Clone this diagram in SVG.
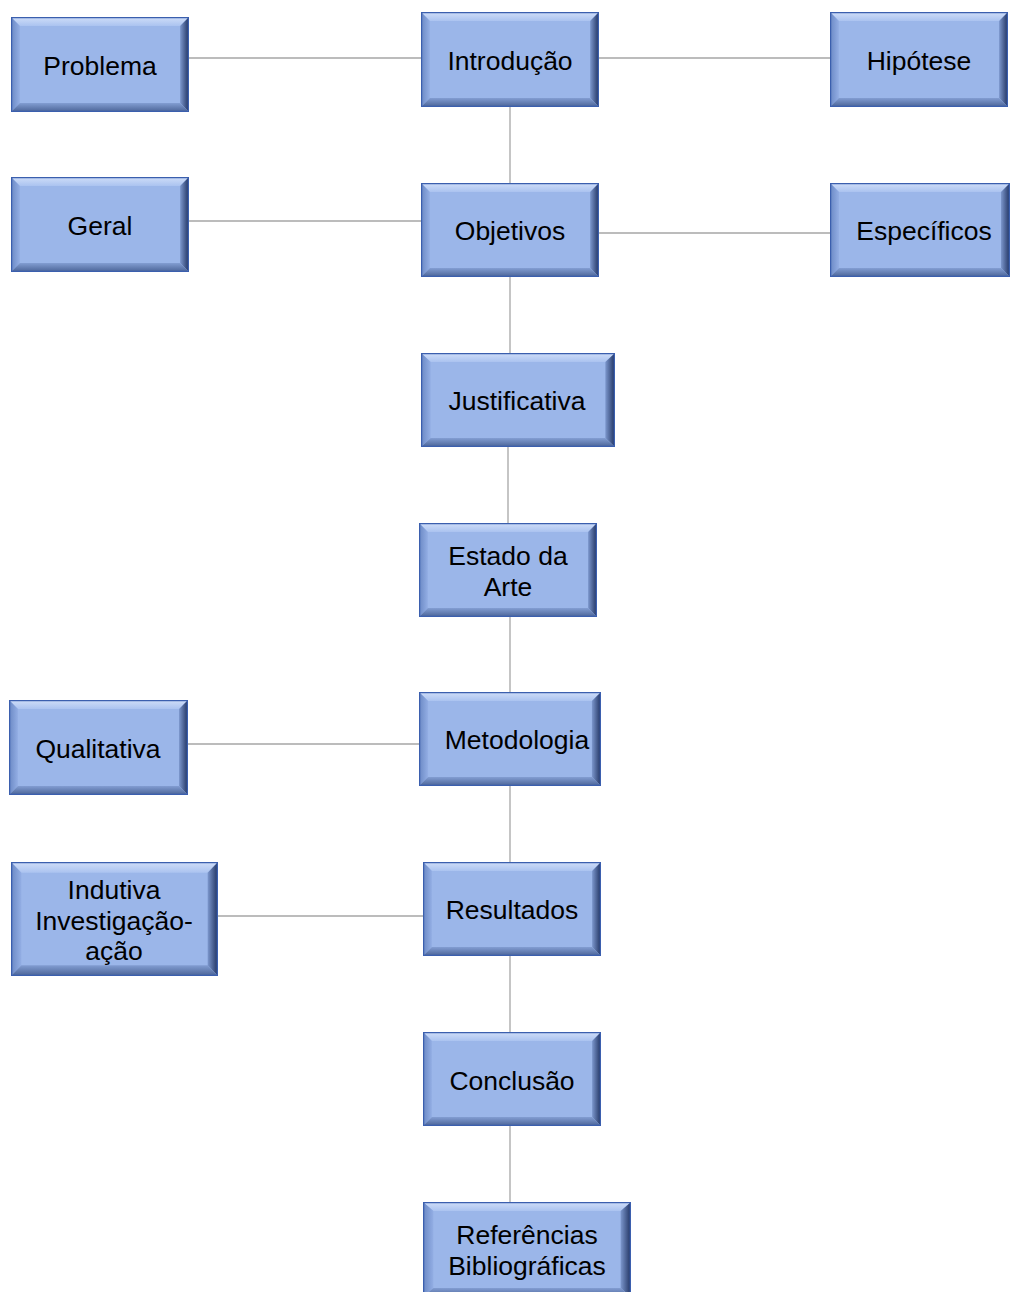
<svg xmlns="http://www.w3.org/2000/svg" xmlns:xlink="http://www.w3.org/1999/xlink" width="1010" height="1292" viewBox="0 0 1010 1292">
  <defs>
    <style>
      .lbl { font-family: "Liberation Sans", Arial, sans-serif; font-size: 26.5px; fill: #000; text-anchor: middle; }
      .wire { stroke: #a6a6a6; stroke-width: 1.3; fill: none; }
    </style>
    <linearGradient id="gTop" x1="0" y1="0" x2="0" y2="1">
      <stop offset="0" stop-color="#d0def8"/>
      <stop offset="1" stop-color="#abc3f0"/>
    </linearGradient>
    <linearGradient id="gLeft" x1="0" y1="0" x2="1" y2="0">
      <stop offset="0" stop-color="#6a88c4"/>
      <stop offset="1" stop-color="#93aee4"/>
    </linearGradient>
    <linearGradient id="gRight" x1="0" y1="0" x2="1" y2="0">
      <stop offset="0" stop-color="#7c97cd"/>
      <stop offset="1" stop-color="#1f3260"/>
    </linearGradient>
    <linearGradient id="gBot" x1="0" y1="0" x2="0" y2="1">
      <stop offset="0" stop-color="#829dd2"/>
      <stop offset="1" stop-color="#4a6396"/>
    </linearGradient>
    <!-- bevelled box, stretched to each node's size -->
    <symbol id="box" viewBox="0 0 180 95" preserveAspectRatio="none">
      <rect x="0" y="0" width="180" height="95" fill="#9bb6e9"/>
      <polygon points="0,0 180,0 171,9 9,9" fill="url(#gTop)"/>
      <polygon points="0,0 9,9 9,86 0,95" fill="url(#gLeft)"/>
      <polygon points="180,0 171,9 171,86 180,95" fill="url(#gRight)"/>
      <polygon points="0,95 180,95 171,86 9,86" fill="url(#gBot)"/>
      <rect x="0.5" y="0.5" width="179" height="94" fill="none" stroke="#3b5fae" stroke-width="1.5" vector-effect="non-scaling-stroke"/>
    </symbol>
  </defs>

  <rect width="1010" height="1292" fill="#ffffff"/>

  <g id="connectors">
    <line class="wire" x1="189" y1="58" x2="421" y2="58"/>
    <line class="wire" x1="599" y1="58" x2="830" y2="58"/>
    <line class="wire" x1="510" y1="107" x2="510" y2="183"/>
    <line class="wire" x1="189" y1="221" x2="421" y2="221"/>
    <line class="wire" x1="599" y1="233" x2="830" y2="233"/>
    <line class="wire" x1="510" y1="277" x2="510" y2="353"/>
    <line class="wire" x1="508" y1="447" x2="508" y2="523"/>
    <line class="wire" x1="510" y1="617" x2="510" y2="692"/>
    <line class="wire" x1="188" y1="744" x2="419" y2="744"/>
    <line class="wire" x1="510" y1="786" x2="510" y2="862"/>
    <line class="wire" x1="218" y1="916" x2="423" y2="916"/>
    <line class="wire" x1="510" y1="956" x2="510" y2="1032"/>
    <line class="wire" x1="510" y1="1126" x2="510" y2="1202"/>
  </g>

  <g id="problema">
    <use xlink:href="#box" x="11" y="17" width="178" height="95"/>
    <text class="lbl" x="100" y="75">Problema</text>
  </g>
  <g id="introducao">
    <use xlink:href="#box" x="421" y="12" width="178" height="95"/>
    <text class="lbl" x="510" y="70">Introdução</text>
  </g>
  <g id="hipotese">
    <use xlink:href="#box" x="830" y="12" width="178" height="95"/>
    <text class="lbl" x="919" y="70">Hipótese</text>
  </g>
  <g id="geral">
    <use xlink:href="#box" x="11" y="177" width="178" height="95"/>
    <text class="lbl" x="100" y="235">Geral</text>
  </g>
  <g id="objetivos">
    <use xlink:href="#box" x="421" y="183" width="178" height="94"/>
    <text class="lbl" x="510" y="240">Objetivos</text>
  </g>
  <g id="especificos">
    <use xlink:href="#box" x="830" y="183" width="180" height="94"/>
    <text class="lbl" x="924" y="240">Específicos</text>
  </g>
  <g id="justificativa">
    <use xlink:href="#box" x="421" y="353" width="194" height="94"/>
    <text class="lbl" x="517" y="410">Justificativa</text>
  </g>
  <g id="estado-da-arte">
    <use xlink:href="#box" x="419" y="523" width="178" height="94"/>
    <text class="lbl" x="508" y="565">Estado da</text>
    <text class="lbl" x="508" y="596">Arte</text>
  </g>
  <g id="qualitativa">
    <use xlink:href="#box" x="9" y="700" width="179" height="95"/>
    <text class="lbl" x="98" y="758">Qualitativa</text>
  </g>
  <g id="metodologia">
    <use xlink:href="#box" x="419" y="692" width="182" height="94"/>
    <text class="lbl" x="517" y="749">Metodologia</text>
  </g>
  <g id="indutiva">
    <use xlink:href="#box" x="11" y="862" width="207" height="114"/>
    <text class="lbl" x="114" y="899">Indutiva</text>
    <text class="lbl" x="114" y="930">Investigação-</text>
    <text class="lbl" x="114" y="960">ação</text>
  </g>
  <g id="resultados">
    <use xlink:href="#box" x="423" y="862" width="178" height="94"/>
    <text class="lbl" x="512" y="919">Resultados</text>
  </g>
  <g id="conclusao">
    <use xlink:href="#box" x="423" y="1032" width="178" height="94"/>
    <text class="lbl" x="512" y="1090">Conclusão</text>
  </g>
  <g id="referencias">
    <use xlink:href="#box" x="423" y="1202" width="208" height="95"/>
    <text class="lbl" x="527" y="1244">Referências</text>
    <text class="lbl" x="527" y="1275">Bibliográficas</text>
  </g>
</svg>
